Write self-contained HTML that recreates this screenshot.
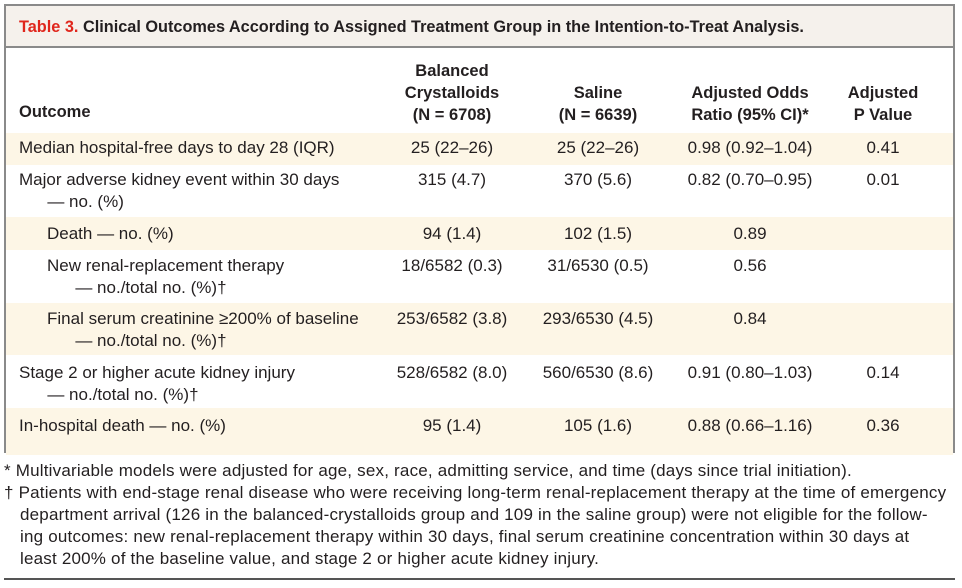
<!DOCTYPE html>
<html><head><meta charset="utf-8"><style>
*{margin:0;padding:0;box-sizing:border-box}
body{width:962px;height:588px;background:#fff;font-family:"Liberation Sans",sans-serif;color:#231f20;position:relative;overflow:hidden}
.box{position:absolute;left:4px;top:4px;width:951px;height:449px;border:2px solid #8a8a8a;border-bottom:none}
.title{position:absolute;left:0;top:0;width:947px;height:42px;background:#f5f1ec;border-bottom:2px solid #8a8a8a;font-size:16.3px;font-weight:bold;line-height:42px;padding-left:13px}
.title span{color:#e0261c}
.t{position:absolute;font-size:17px;line-height:22px;white-space:nowrap}
.h{font-weight:bold;text-align:center;font-size:16.5px}
.c{text-align:center;transform:translateX(-50%)}
.band{position:absolute;left:0;width:947px;background:#fdf6e6}
.ft{position:absolute;font-size:17px;line-height:22px;white-space:nowrap;letter-spacing:0.2px}
</style></head><body>
<div class="box">
<div class="title"><span>Table 3.</span> Clinical Outcomes According to Assigned Treatment Group in the Intention-to-Treat Analysis.</div>
<div class="band" style="top:127px;height:32px"></div>
<div class="band" style="top:211px;height:33px"></div>
<div class="band" style="top:297px;height:52px"></div>
<div class="band" style="top:402px;height:47px"></div>
</div>
<div class="t h" style="left:19px;top:101px;text-align:left">Outcome</div>
<div class="t h c" style="left:452px;top:60px">Balanced<br>Crystalloids<br>(N = 6708)</div>
<div class="t h c" style="left:598px;top:82px">Saline<br>(N = 6639)</div>
<div class="t h c" style="left:750px;top:82px">Adjusted Odds<br>Ratio (95% CI)*</div>
<div class="t h c" style="left:883px;top:82px">Adjusted<br>P Value</div>

<div class="t" style="left:19px;top:137px">Median hospital-free days to day 28 (IQR)</div>
<div class="t c" style="left:452px;top:137px">25 (22–26)</div>
<div class="t c" style="left:598px;top:137px">25 (22–26)</div>
<div class="t c" style="left:750px;top:137px">0.98 (0.92–1.04)</div>
<div class="t c" style="left:883px;top:137px">0.41</div>

<div class="t" style="left:19px;top:169px">Major adverse kidney event within 30 days<br>&nbsp;&nbsp;&nbsp;&nbsp;&nbsp;&nbsp;— no. (%)</div>
<div class="t c" style="left:452px;top:169px">315 (4.7)</div>
<div class="t c" style="left:598px;top:169px">370 (5.6)</div>
<div class="t c" style="left:750px;top:169px">0.82 (0.70–0.95)</div>
<div class="t c" style="left:883px;top:169px">0.01</div>

<div class="t" style="left:47px;top:223px">Death — no. (%)</div>
<div class="t c" style="left:452px;top:223px">94 (1.4)</div>
<div class="t c" style="left:598px;top:223px">102 (1.5)</div>
<div class="t c" style="left:750px;top:223px">0.89</div>

<div class="t" style="left:47px;top:255px">New renal-replacement therapy<br>&nbsp;&nbsp;&nbsp;&nbsp;&nbsp;&nbsp;— no./total no. (%)†</div>
<div class="t c" style="left:452px;top:255px">18/6582 (0.3)</div>
<div class="t c" style="left:598px;top:255px">31/6530 (0.5)</div>
<div class="t c" style="left:750px;top:255px">0.56</div>

<div class="t" style="left:47px;top:308px">Final serum creatinine ≥200% of baseline<br>&nbsp;&nbsp;&nbsp;&nbsp;&nbsp;&nbsp;— no./total no. (%)†</div>
<div class="t c" style="left:452px;top:308px">253/6582 (3.8)</div>
<div class="t c" style="left:598px;top:308px">293/6530 (4.5)</div>
<div class="t c" style="left:750px;top:308px">0.84</div>

<div class="t" style="left:19px;top:362px">Stage 2 or higher acute kidney injury<br>&nbsp;&nbsp;&nbsp;&nbsp;&nbsp;&nbsp;— no./total no. (%)†</div>
<div class="t c" style="left:452px;top:362px">528/6582 (8.0)</div>
<div class="t c" style="left:598px;top:362px">560/6530 (8.6)</div>
<div class="t c" style="left:750px;top:362px">0.91 (0.80–1.03)</div>
<div class="t c" style="left:883px;top:362px">0.14</div>

<div class="t" style="left:19px;top:415px">In-hospital death — no. (%)</div>
<div class="t c" style="left:452px;top:415px">95 (1.4)</div>
<div class="t c" style="left:598px;top:415px">105 (1.6)</div>
<div class="t c" style="left:750px;top:415px">0.88 (0.66–1.16)</div>
<div class="t c" style="left:883px;top:415px">0.36</div>

<div class="ft" style="left:4px;top:460px">* Multivariable models were adjusted for age, sex, race, admitting service, and time (days since trial initiation).</div>
<div class="ft" style="left:4px;top:482px">† Patients with end-stage renal disease who were receiving long-term renal-replacement therapy at the time of emergency</div>
<div class="ft" style="left:20px;top:504px">department arrival (126 in the balanced-crystalloids group and 109 in the saline group) were not eligible for the follow-</div>
<div class="ft" style="left:20px;top:526px">ing outcomes: new renal-replacement therapy within 30 days, final serum creatinine concentration within 30 days at</div>
<div class="ft" style="left:20px;top:548px">least 200% of the baseline value, and stage 2 or higher acute kidney injury.</div>
<div style="position:absolute;left:4px;top:578px;width:951px;height:2px;background:#555"></div>
</body></html>
